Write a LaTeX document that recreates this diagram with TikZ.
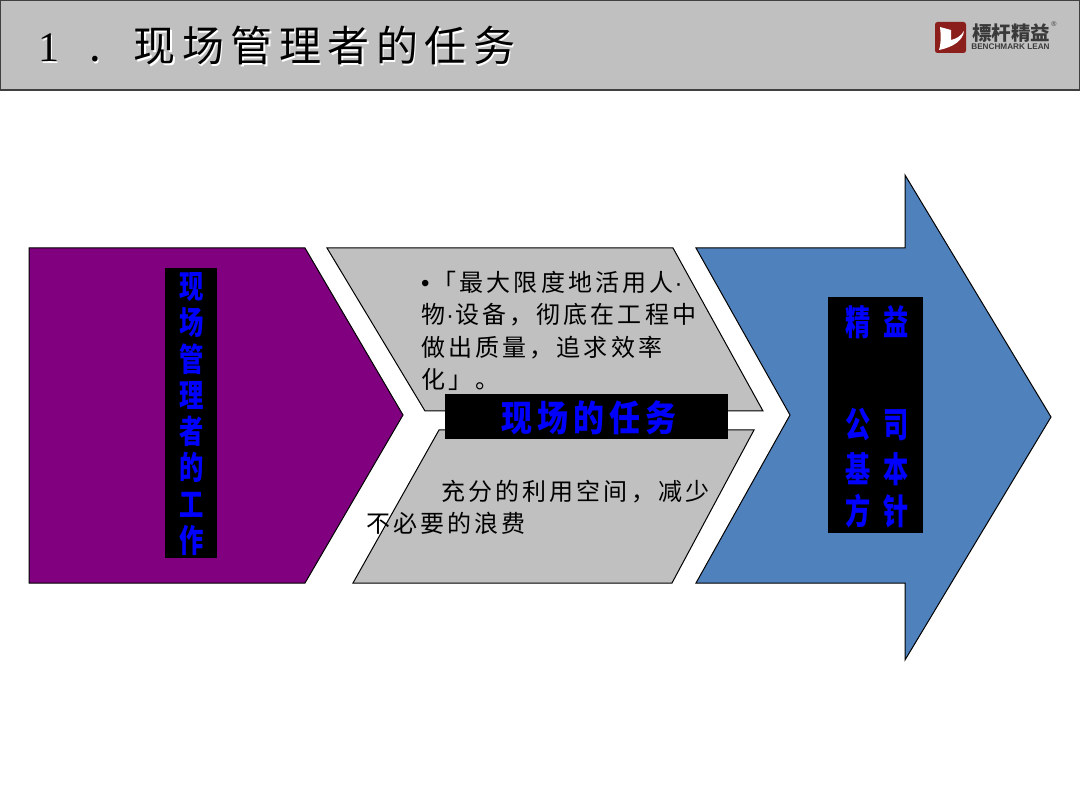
\documentclass[tikz,border=0pt]{standalone}
\usepackage{fontspec}
\setmainfont{Liberation Sans}
\newfontfamily\latinserif{Liberation Serif}
\newfontfamily\cjktitle[LetterSpace=15.5]{Noto Sans CJK SC}
\newfontfamily\cjkbody[LetterSpace=13]{Noto Sans CJK SC}
\newfontfamily\cjkhead[LetterSpace=14,FakeStretch=0.86]{Noto Sans CJK SC}
\newfontfamily\cjkside[FakeStretch=0.76]{Noto Sans CJK SC}
\newfontfamily\cjkpol[FakeStretch=0.72]{Noto Sans CJK SC}
\newfontfamily\cjklogo{Noto Sans CJK SC}
\newcommand{\thindot}{{\rmfamily\hspace{1pt}·\hspace{1pt}}}
\definecolor{hdrgrey}{HTML}{C0C0C0}
\definecolor{hdredge}{HTML}{404040}
\definecolor{plum}{HTML}{800080}
\definecolor{steel}{HTML}{4F81BD}
\definecolor{pureblue}{HTML}{0000FF}
\definecolor{logored}{HTML}{8A1F1C}
\definecolor{logotxt}{HTML}{3A3A3A}
\tikzset{
  shapeline/.style={draw=black,line width=1pt,line join=miter},
  bodytext/.style={inner sep=0pt,align=left,text=black,font=\cjkbody\fontsize{24}{32.4}\selectfont},
  blackbox/.style={fill=black,draw=none,inner sep=0pt},
  bluetext/.style={inner sep=0pt,align=center,text=pureblue},
  titletext/.style={inner sep=0pt,anchor=west,font=\cjktitle\fontsize{42}{50}\selectfont}
}
\newcommand{\titlestr}{{\latinserif 1}\hspace{30pt}.\hspace{33pt}现场管理者的任务}
\begin{document}
\begin{tikzpicture}[x=1pt,y=-1pt]
\useasboundingbox (0,0) rectangle (1080,810);
\fill[white] (0,0) rectangle (1080,810);
% header
\draw[fill=hdrgrey,draw=hdredge,line width=1.5pt] (0.5,0.5) rectangle (1079.5,90);
\node[titletext,text=white] (titleshadow) at (39.5,47.5) {\titlestr};
\node[titletext,text=black] (title) at (38,46) {\titlestr};
% logo
\fill[logored,rounded corners=2.5pt] (935,22) rectangle (966,53);
\fill[white] (940,27) -- (951,30) -- (951,40) .. controls (956,39) and (961,36) .. (964,31) .. controls (963,40) and (954,47) .. (939,50) .. controls (941,44) and (941,35) .. (940,27) -- cycle;
\fill[logored] (952,31) -- (959,34) -- (952,38) -- cycle;
\node[inner sep=0pt,text=logotxt,font=\cjklogo\bfseries\fontsize{19.5}{20}\selectfont] (logocn) at (1011,33) {標杆精益};
\node[inner sep=0pt,text=logotxt,font=\bfseries\fontsize{8.2}{9}\selectfont] (logoen) at (1010.5,46.5) {BENCHMARK LEAN};
\node[inner sep=0pt,text=logotxt,font=\fontsize{7}{8}\selectfont] (logor) at (1054,24) {®};
% shapes
\draw[shapeline,fill=plum] (29,248) -- (305,248) -- (403,415) -- (305,583) -- (29,583) -- cycle;
\draw[shapeline,fill=hdrgrey] (327,248) -- (673,248) -- (763,411) -- (425,411) -- cycle;
\draw[shapeline,fill=hdrgrey] (439,430) -- (754,430) -- (672,583) -- (353,583) -- cycle;
\draw[shapeline,fill=steel] (696,248) -- (905,248) -- (905,175) -- (1051,417) -- (905,660) -- (905,583) -- (696,583) -- (790,415) -- cycle;
% black label boxes
\fill[blackbox] (165,268) rectangle (217,558);
\fill[blackbox] (445,394) rectangle (728,439);
\fill[blackbox] (828,297) rectangle (923,533);
% blue labels
\node[bluetext,font=\cjkside\bfseries\fontsize{32}{36.3}\selectfont] (work) at (191.5,414) {现\\场\\管\\理\\者\\的\\工\\作};
\node[bluetext,font=\cjkhead\bfseries\fontsize{36}{40}\selectfont] (task) at (589,418) {现场的任务};
\node[bluetext,font=\cjkpol\bfseries\fontsize{35}{45}\selectfont] (policy) at (877,417) {精\hspace{13pt}益\\[57pt]公\hspace{13pt}司\\基\hspace{13pt}本\\[-3pt]方\hspace{13pt}针};
% body texts
\node[bodytext,anchor=north west] (upper) at (421,271) {{\rmfamily •}\hspace{3pt}「最大限度地活用人\thindot\\物\thindot 设备，彻底在工程中\\做出质量，追求效率\\化」。};
\node[bodytext,anchor=north west] (lower) at (366,480) {\hspace*{75pt}充分的利用空间，减少\\不必要的浪费};
\end{tikzpicture}
\end{document}
